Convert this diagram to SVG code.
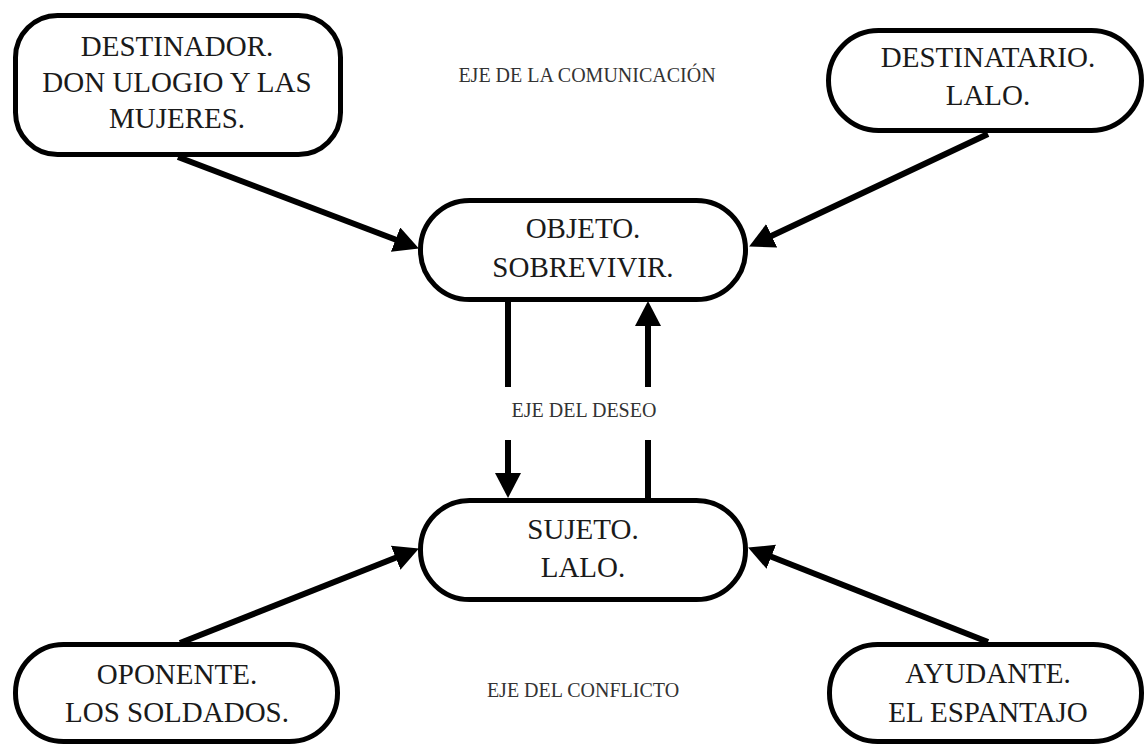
<svg xmlns="http://www.w3.org/2000/svg" width="1145" height="745" viewBox="0 0 1145 745">
<style>
.box{fill:#fff;stroke:#000;stroke-width:5}
.ntext{font-family:'Times New Roman','Liberation Serif',serif;font-size:29px;fill:#1a1a1a;text-anchor:middle}
.axis{font-family:'Times New Roman','Liberation Serif',serif;font-size:20px;fill:#333;text-anchor:middle}
.c{fill:none;stroke:#000;stroke-width:6;marker-end:url(#ah)}
</style>
<defs>
<marker id="ah" markerUnits="userSpaceOnUse" markerWidth="26" markerHeight="26" refX="4" refY="13" orient="auto" viewBox="0 0 26 26">
<path d="M0,0 L25,13 L0,26 z" fill="#000"/>
</marker>
</defs>
<rect width="1145" height="745" fill="#fff"/>
<g id="connectors">
<line class="c" x1="178" y1="157" x2="399.3" y2="241"/>
<line class="c" x1="988" y1="134" x2="768.1" y2="237.5"/>
<line class="c" x1="180" y1="643" x2="399.4" y2="556.3"/>
<line class="c" x1="988" y1="642" x2="767.6" y2="555.3"/>
<path class="c" d="M508,302 V387 M508,440 V477"/>
<path class="c" d="M648,498 V440 M648,387 V322"/>
</g>
<g id="destinador">
<rect class="box" x="15.5" y="15.5" width="325" height="139" rx="42"/>
<text class="ntext" x="177" y="56">DESTINADOR.</text>
<text class="ntext" x="177" y="92">DON ULOGIO Y LAS</text>
<text class="ntext" x="177" y="128">MUJERES.</text>
</g>
<g id="destinatario">
<rect class="box" x="828.5" y="30.5" width="313" height="100" rx="50"/>
<text class="ntext" x="988" y="67">DESTINATARIO.</text>
<text class="ntext" x="988" y="105">LALO.</text>
</g>
<g id="objeto">
<rect class="box" x="420.5" y="200.5" width="325" height="99" rx="49"/>
<text class="ntext" x="583" y="238">OBJETO.</text>
<text class="ntext" x="583" y="277">SOBREVIVIR.</text>
</g>
<g id="sujeto">
<rect class="box" x="420.5" y="500.5" width="325" height="99" rx="49"/>
<text class="ntext" x="583" y="539">SUJETO.</text>
<text class="ntext" x="583" y="577">LALO.</text>
</g>
<g id="oponente">
<rect class="box" x="15.5" y="644.5" width="322" height="97" rx="48"/>
<text class="ntext" x="177" y="684">OPONENTE.</text>
<text class="ntext" x="177" y="722">LOS SOLDADOS.</text>
</g>
<g id="ayudante">
<rect class="box" x="829.5" y="644.5" width="312" height="97" rx="48"/>
<text class="ntext" x="988" y="683">AYUDANTE.</text>
<text class="ntext" x="988" y="722">EL ESPANTAJO</text>
</g>
<g id="labels">
<text class="axis" x="587" y="82">EJE DE LA COMUNICACIÓN</text>
<text class="axis" x="584" y="417">EJE DEL DESEO</text>
<text class="axis" x="583" y="697">EJE DEL CONFLICTO</text>
</g>
</svg>
